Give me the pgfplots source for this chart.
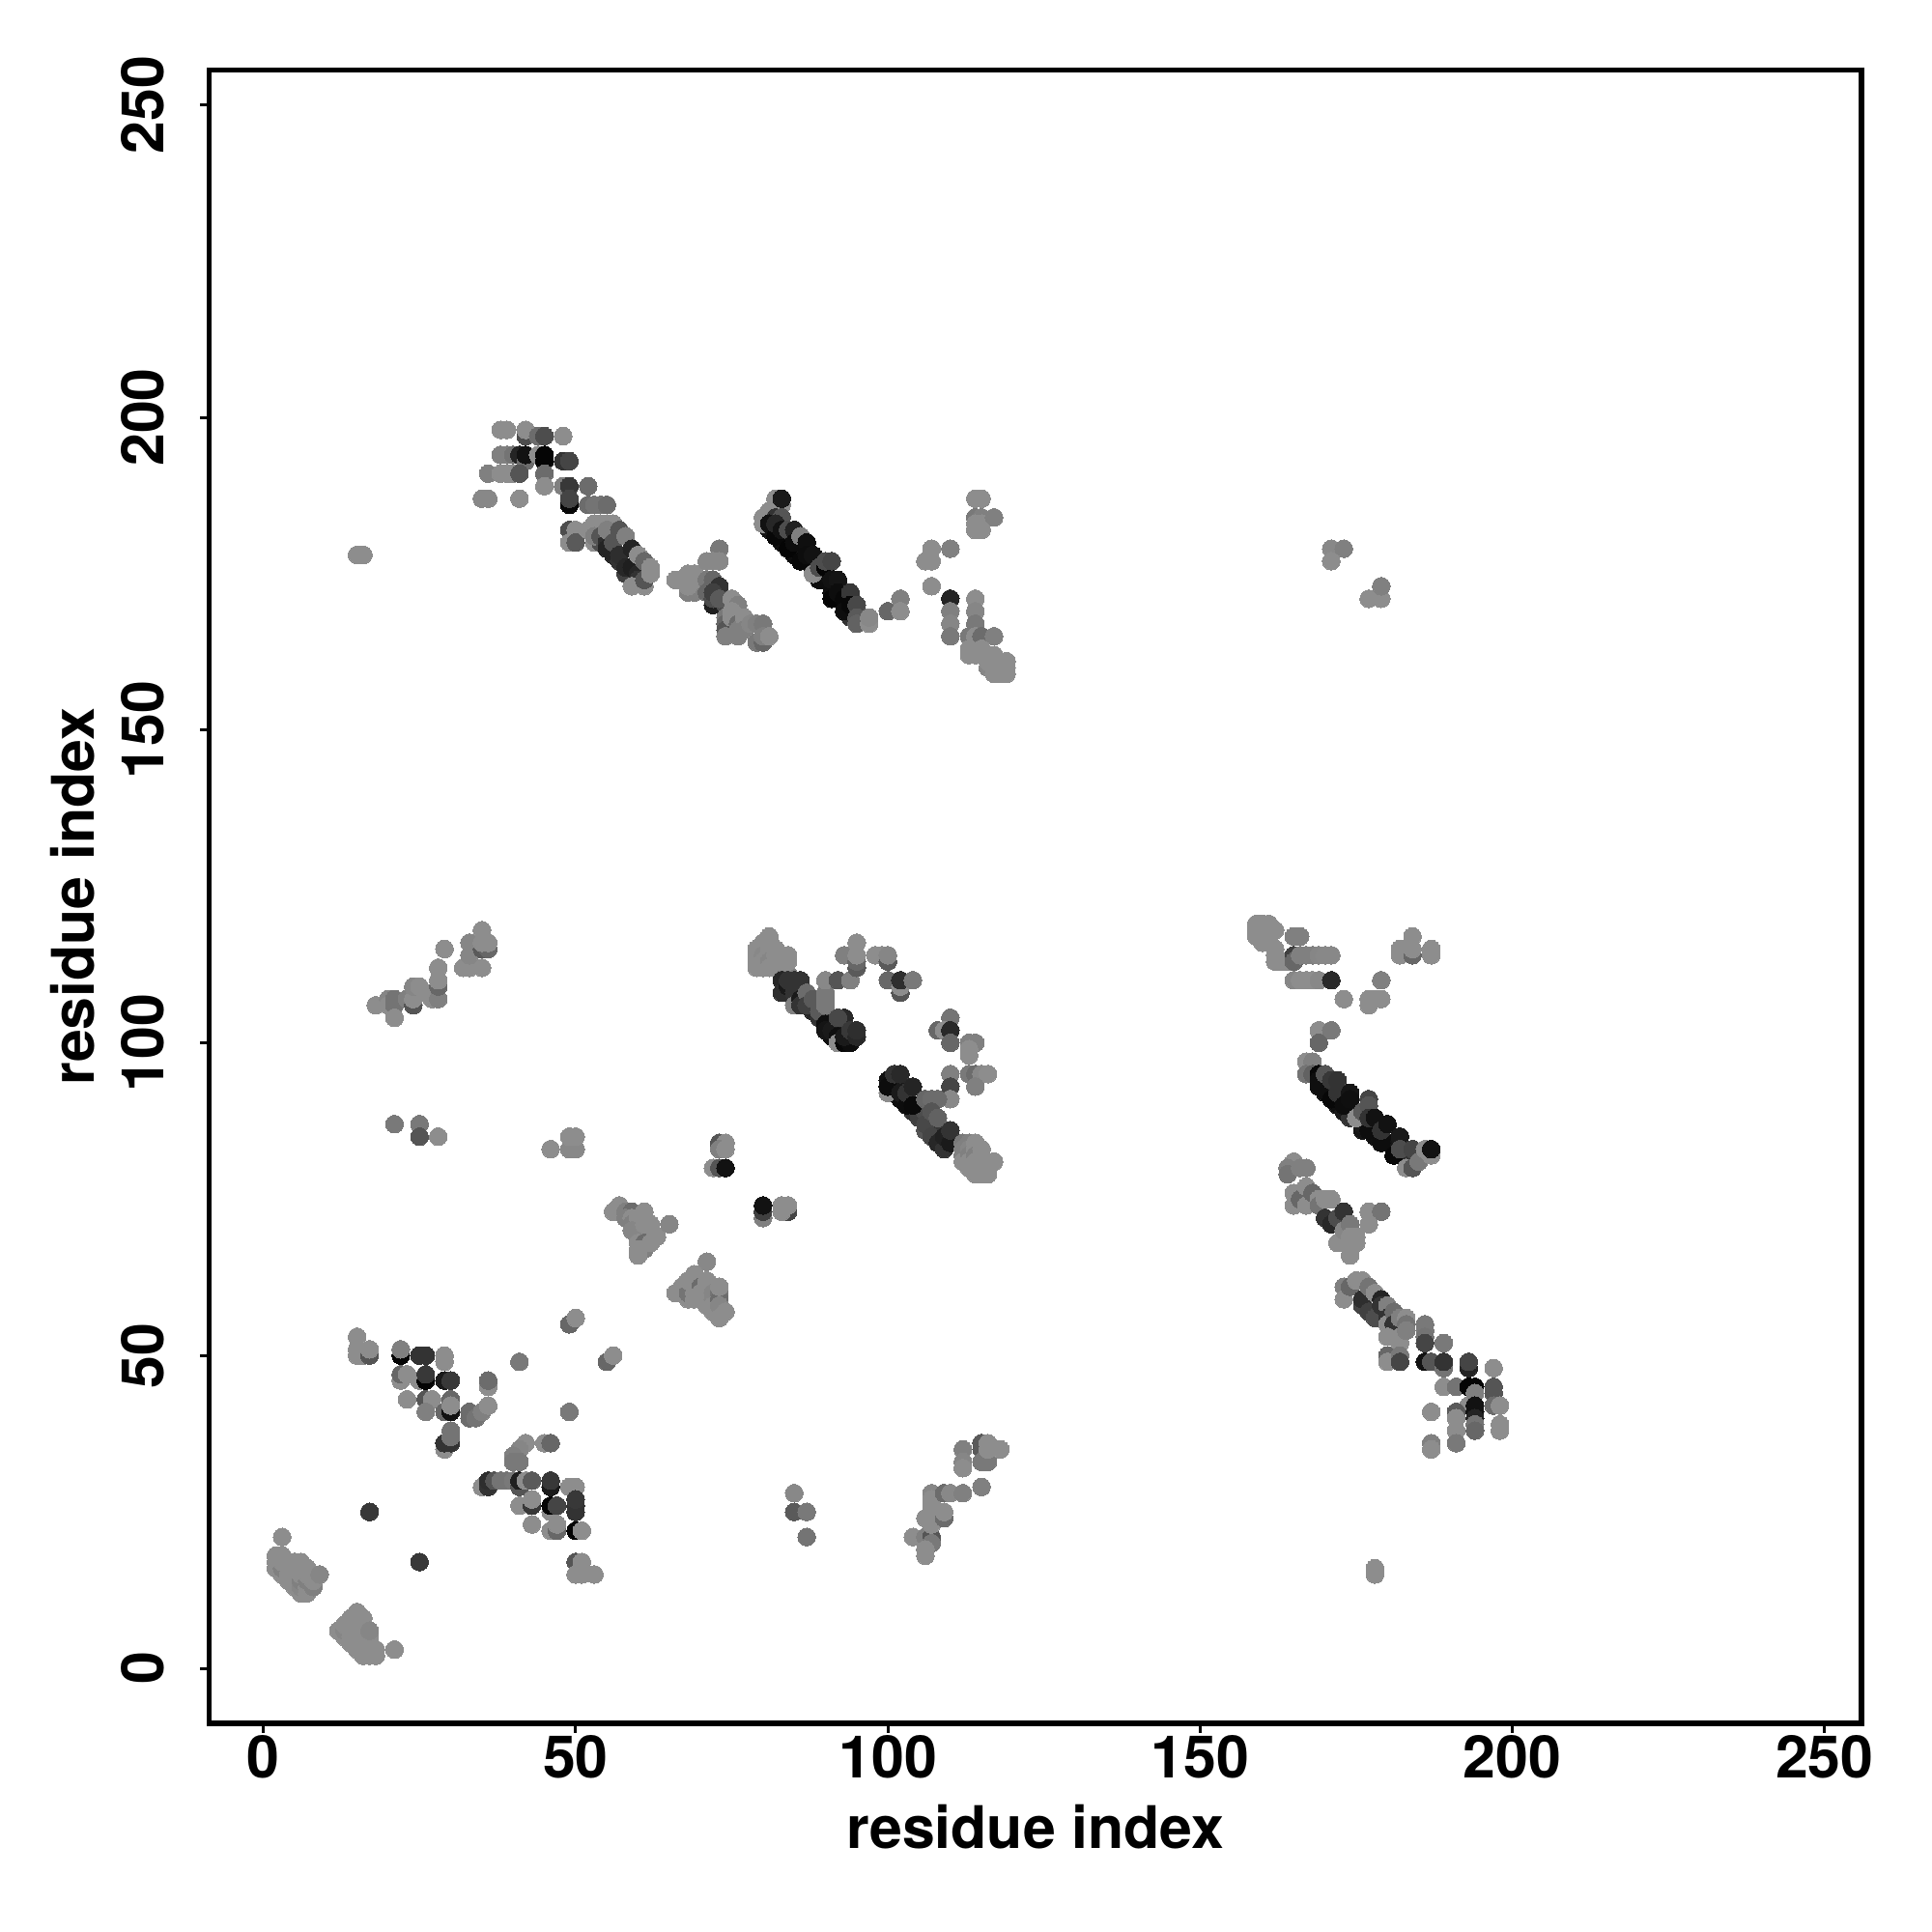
\documentclass[border=0pt]{standalone}
\usepackage{fontspec}
\setmainfont{TeX Gyre Heros}
\usepackage{pgfplots}
\pgfplotsset{compat=1.18}
\pgfplotsset{dots/.style={scatter,only marks,mark=*,mark size=0.92mm,
  scatter src=explicit,
  scatter/use mapped color={draw=mapped color,fill=mapped color},
  mark options={line width=0pt}}}
\begin{document}
\begin{tikzpicture}
\path[use as bounding box] (-21.67mm,-21.6mm) rectangle (178.33mm,178.4mm);
\begin{axis}[
  at={(0,0)},anchor=south west,
  scale only axis,width=171.03mm,height=171.13mm,
  xmin=-8.66,xmax=255.9,ymin=-8.8,ymax=255.5,
  axis line style={line width=0.52mm},
  tick style={line width=0.3mm,black},
  tick align=outside,major tick length=0.95mm,
  xtick={0,50,100,150,200,250},ytick={0,50,100,150,200,250},
  xtick pos=bottom,ytick pos=left,
  colormap={gr}{gray(0cm)=(0); gray(1cm)=(1)},
  point meta min=0,point meta max=1,
  /pgf/number format/assume math mode=true,
  tick label style={font=\fontsize{17.3}{20}\selectfont\bfseries,inner sep=0pt,outer sep=0pt},
  xticklabel style={anchor=north,yshift=-0.3mm},
  yticklabel style={rotate=90,anchor=south,yshift=3.7mm},
  xlabel={residue index},ylabel={residue index},
  label style={font=\fontsize{17.3}{20}\selectfont\bfseries},
  xlabel style={at={(axis description cs:0.5,-0.0625)},anchor=center},
  ylabel style={at={(axis description cs:-0.0827,0.5)},anchor=center,rotate=0},
]
% continuous dark underlay of the long bands
\addplot[dots] table[meta index=2] {
81 182 .08
82 182 .1
83 180 .06
84 180 .06
85 179 .05
85 178 .05
86 178 .06
86 179 .08
87 177 .05
88 176 .06
88 177 .1
89 175 .05
89 174 .05
90 174 .05
90 175 .06
91 173 .05
91 172 .05
92 173 .08
92 171 .05
93 170 .06
93 172 .1
94 168 .2
94 169 .08
85 107 .15
86 108 .2
87 107 .18
88 105 .15
88 106 .2
89 104 .2
90 104 .15
91 101 .06
91 103 .12
92 102 .1
93 102 .1
94 101 .1
101 93 .07
101 92 .08
102 91 .06
102 93 .1
103 91 .07
104 89 .2
105 88 .25
105 90 .15
106 89 .3
107 86 .25
107 87 .25
108 85 .2
108 86 .22
170 93 .06
170 92 .06
171 92 .08
172 90 .06
172 91 .08
173 89 .1
174 88 .2
175 89 .12
176 86 .08
176 87 .1
177 87 .08
178 85 .06
178 86 .08
179 85 .08
180 84 .06
181 83 .08
182 82 .1
183 81 .2
183 82 .12
184 81 .2
};
% lower-left clusters
\addplot[dots] table[meta index=2] {
3 21 .55
4 16 .45
5 15 .45
2 16 .55
2 17 .55
2 18 .55
3 15 .55
3 16 .5
3 17 .55
3 18 .55
4 14 .55
4 15 .55
4 17 .55
5 13 .55
5 14 .55
5 16 .55
5 17 .55
6 12 .55
6 13 .52
6 14 .5
6 15 .55
6 16 .55
6 17 .55
7 12 .55
7 13 .55
7 14 .5
7 15 .55
7 16 .55
8 13 .5
8 14 .55
8 15 .55
9 15 .52
14 6 .45
15 5 .45
17 4 .45
12 6 .55
13 5 .55
13 6 .52
13 7 .55
14 4 .55
14 5 .55
14 7 .55
14 8 .55
15 3 .55
15 4 .55
15 6 .55
15 7 .55
15 8 .55
15 9 .55
16 2 .55
16 3 .55
16 4 .55
16 5 .55
16 6 .55
16 7 .55
16 8 .55
17 2 .55
17 3 .55
17 5 .55
17 6 .52
18 2 .55
18 3 .55
21 3 .55
17 25 .22
25 17 .22
};
% cluster around (30,40)
\addplot[dots] table[meta index=2] {
15 53 .55
15 51 .55
15 50 .55
16 50 .55
17 50 .33
17 51 .55
22 50 .02
22 51 .5
25 50 .2
26 50 .2
29 49 .55
29 50 .55
22 46 .55
22 47 .4
23 47 .55
25 46 .55
26 46 .02
26 47 .22
29 46 .1
30 46 .22
36 45 .55
36 46 .42
41 49 .47
23 43 .55
26 43 .33
27 43 .55
30 43 .4
26 41 .5
29 41 .4
30 41 .07
30 42 .55
33 41 .42
33 40 .42
34 40 .45
35 41 .5
36 42 .55
29 35 .55
29 36 .2
30 36 .2
30 37 .45
30 38 .45
49 41 .47
49 55 .4
50 56 .55
55 49 .4
56 50 .55
42 36 .55
41 35 .52
40 34 .5
40 33 .47
41 33 .47
45 36 .55
46 36 .4
35 29 .55
36 29 .2
36 30 .18
37 30 .33
38 30 .45
39 30 .45
40 30 .47
41 29 .33
41 30 .12
42 30 .55
43 30 .35
46 29 .1
46 30 .22
49 29 .55
50 29 .55
41 26 .55
43 26 .22
43 27 .55
46 25 .55
46 26 .02
47 26 .27
50 25 .2
50 26 .2
50 27 .22
43 23 .55
46 22 .55
47 22 .4
47 23 .55
50 22 .02
51 22 .55
50 17 .33
51 17 .55
51 16 .55
50 15 .55
51 15 .55
53 15 .55
};
% upper-left and middle-left
\addplot[dots] table[meta index=2] {
15 178 .55
16 178 .55
18 106 .55
20 107 .52
20 106 .55
21 106 .45
21 107 .45
21 104 .55
23 107 .5
24 106 .33
24 107 .55
24 109 .52
25 109 .55
26 108 .55
27 107 .55
28 107 .5
28 109 .4
28 110 .55
28 112 .55
29 115 .55
32 112 .55
33 112 .55
35 112 .55
33 116 .52
33 114 .52
35 115 .35
36 115 .4
35 118 .55
35 116 .55
36 116 .55
21 87 .47
25 87 .47
25 85 .33
28 85 .55
46 83 .55
49 83 .53
50 83 .53
49 85 .55
50 85 .55
73 84 .33
74 84 .55
73 83 .5
74 83 .55
72 80 .55
73 80 .33
74 80 .07
80 72 .5
80 73 .25
80 74 .07
84 73 .27
83 73 .55
83 74 .55
84 74 .55
};
% diagonal clusters (56-74)
\addplot[dots] table[meta index=2] {
57 74 .55
56 73 .55
58 73 .5
59 73 .42
58 72 .5
59 72 .55
59 71 .5
60 72 .55
61 73 .55
61 72 .55
61 70 .35
60 70 .55
60 69 .52
59 70 .52
60 68 .55
61 71 .55
62 71 .55
62 70 .55
62 69 .55
61 68 .42
61 67 .5
60 67 .55
60 66 .55
62 68 .55
63 69 .55
65 71 .52
71 65 .53
66 60 .55
67 61 .55
68 59 .55
68 60 .45
68 62 .55
69 63 .55
69 61 .55
69 59 .55
69 60 .55
70 62 .55
70 61 .42
70 60 .55
70 59 .55
71 62 .55
71 61 .55
71 60 .55
71 59 .55
71 58 .55
72 60 .52
72 59 .52
72 58 .55
72 57 .55
73 60 .45
73 59 .42
73 58 .52
73 61 .55
73 56 .55
74 57 .55
};
% 180-190 top left arm
\addplot[dots] table[meta index=2] {
38 198 .55
39 198 .55
42 197 .3
42 198 .55
44 197 .42
45 197 .3
48 197 .55
38 194 .5
39 194 .5
40 194 .45
41 194 .14
42 193 .42
42 194 .07
44 194 .55
45 193 .02
45 194 .02
48 193 .2
49 193 .27
36 191 .5
38 191 .55
39 191 .55
40 191 .55
41 191 .33
45 191 .42
45 189 .55
35 187 .53
36 187 .53
41 187 .55
48 189 .5
49 189 .22
52 189 .42
49 186 .03
49 187 .27
52 186 .42
53 186 .45
54 186 .45
55 186 .42
49 182 .3
50 182 .55
49 180 .55
50 180 .35
52 182 .55
53 183 .55
54 183 .55
55 183 .55
56 183 .55
53 180 .55
54 180 .3
53 181 .5
54 181 .33
55 180 .18
55 179 .14
55 182 .5
56 178 .14
56 180 .33
57 177 .2
57 178 .18
57 182 .33
58 175 .25
58 176 .15
58 181 .5
59 176 .12
59 179 .14
60 175 .15
60 178 .55
60 174 .2
59 173 .55
61 173 .55
61 174 .33
61 177 .4
62 176 .55
62 175 .55
};
% band 66-81
\addplot[dots] table[meta index=2] {
66 174 .55
68 175 .55
69 175 .55
68 172 .5
69 172 .5
68 173 .55
69 174 .55
71 177 .53
73 179 .47
73 177 .53
72 177 .53
71 174 .47
71 172 .4
72 174 .4
73 173 .2
72 170 .12
72 171 .3
72 172 .25
74 170 .3
73 171 .35
75 171 .55
76 170 .5
74 168 .47
74 167 .4
74 166 .33
74 165 .5
75 169 .55
75 168 .55
76 167 .42
76 166 .5
76 165 .5
77 168 .55
77 166 .5
78 167 .52
79 167 .5
80 167 .47
79 164 .47
80 164 .4
80 165 .5
81 165 .55
};
% band 80-97, top
\addplot[dots] table[meta index=2] {
80 184 .55
80 183 .55
81 185 .55
82 187 .55
83 186 .55
83 187 .1
82 184 .2
83 184 .33
81 183 .07
82 181 .03
82 183 .15
83 182 .07
84 182 .3
85 182 .13
84 179 .02
85 180 .05
86 181 .5
86 177 .03
87 180 .06
87 178 .05
88 178 .07
88 175 .55
89 176 .3
90 176 .02
90 177 .3
91 177 .27
91 174 .07
92 174 .08
91 171 .02
92 172 .05
93 171 .03
93 169 .05
94 172 .22
94 170 .03
95 170 .28
95 168 .35
95 167 .38
97 167 .55
97 168 .53
100 169 .4
102 171 .5
102 169 .55
107 179 .55
110 179 .5
106 177 .55
107 177 .55
107 173 .55
110 171 .14
110 169 .5
110 167 .52
110 165 .47
114 171 .55
114 169 .52
114 167 .47
113 165 .47
114 164 .22
114 165 .55
115 165 .42
117 165 .5
113 162 .55
113 163 .55
114 162 .55
115 162 .55
115 163 .55
116 160 .52
116 161 .55
117 159 .55
117 160 .55
117 161 .55
117 162 .55
118 159 .55
118 160 .55
118 161 .55
119 159 .55
119 160 .55
119 161 .55
114 187 .55
115 187 .55
114 184 .47
115 184 .5
114 183 .55
115 183 .55
117 184 .5
114 182 .55
115 182 .55
};
% band 79-116, middle
\addplot[dots] table[meta index=2] {
83 112 .45
84 111 .5
79 115 .55
79 114 .55
79 113 .55
79 112 .55
80 116 .55
81 116 .55
81 117 .55
80 114 .53
80 113 .55
80 112 .55
81 115 .55
81 114 .55
81 113 .52
81 112 .55
82 115 .55
82 114 .55
82 113 .55
83 114 .55
83 113 .55
84 113 .55
84 114 .55
83 110 .15
83 108 .18
84 109 .1
84 110 .2
85 110 .2
86 110 .2
85 108 .2
85 106 .5
86 107 .1
86 106 .2
87 108 .42
87 106 .25
88 107 .35
89 105 .35
90 108 .47
90 107 .47
90 106 .47
90 110 .53
92 110 .33
94 110 .5
93 114 .5
95 112 .35
95 113 .4
95 114 .55
95 116 .55
98 114 .55
99 114 .55
100 113 .35
100 114 .52
100 110 .4
102 108 .33
102 109 .55
102 110 .18
104 110 .47
90 103 .06
90 102 .08
91 102 .1
92 101 .06
92 100 .55
93 100 .03
94 100 .05
93 104 .16
92 104 .28
93 101 .1
94 102 .22
95 101 .15
95 102 .18
110 104 .45
108 102 .4
109 102 .55
110 102 .16
110 100 .4
113 100 .5
114 100 .5
113 99 .55
113 98 .55
110 95 .5
110 93 .27
110 91 .53
113 95 .47
114 95 .42
115 95 .53
116 95 .55
114 93 .5
};
% band 100-117
\addplot[dots] table[meta index=2] {
100 92 .55
100 94 .07
100 93 .05
101 95 .2
102 95 .16
102 92 .1
103 90 .05
103 92 .2
104 90 .04
104 93 .14
106 91 .4
107 91 .42
108 91 .42
106 86 .33
106 87 .28
107 85 .27
107 89 .33
108 84 .15
108 88 .38
109 83 .2
109 85 .13
110 84 .1
110 86 .2
112 84 .47
112 83 .5
112 82 .5
112 81 .55
113 84 .5
113 83 .52
113 82 .5
113 81 .55
113 80 .55
114 84 .55
114 83 .55
114 82 .5
114 81 .55
114 80 .55
114 79 .55
115 83 .55
115 82 .55
115 81 .55
115 80 .55
115 79 .55
116 81 .55
116 80 .55
116 79 .55
117 81 .55
};
% lower middle
\addplot[dots] table[meta index=2] {
85 28 .53
85 25 .35
87 25 .47
87 21 .45
104 21 .55
106 21 .5
107 21 .33
107 20 .47
106 19 .55
106 18 .55
107 24 .3
106 24 .55
107 23 .55
107 28 .52
107 27 .55
107 26 .55
108 25 .55
109 24 .42
109 25 .55
109 28 .42
110 28 .53
112 28 .5
115 29 .5
112 35 .5
112 33 .52
112 32 .55
115 36 .35
115 35 .35
115 33 .47
116 33 .47
116 36 .55
116 35 .55
118 35 .55
};
% right upper
\addplot[dots] table[meta index=2] {
159 119 .55
160 119 .55
161 119 .55
159 118 .55
159 117 .55
160 116 .55
161 117 .55
162 118 .55
162 115 .55
162 114 .55
162 113 .55
163 113 .55
164 113 .55
165 114 .25
165 113 .4
165 117 .5
166 117 .5
166 114 .5
167 114 .5
168 114 .5
169 114 .52
170 114 .53
171 114 .53
165 110 .52
166 110 .55
167 110 .55
168 110 .55
169 110 .53
171 110 .16
173 107 .55
177 107 .55
177 106 .55
178 107 .55
179 107 .55
179 110 .5
182 115 .55
182 114 .55
184 117 .55
184 114 .4
184 115 .55
187 115 .55
187 114 .55
171 179 .53
173 179 .5
171 177 .55
177 171 .55
179 171 .55
179 173 .5
169 102 .55
171 102 .47
169 100 .4
167 97 .55
168 97 .5
167 95 .45
168 95 .38
169 95 .03
169 93 .06
169 94 .06
170 95 .33
171 94 .22
172 94 .2
171 91 .03
172 92 .2
173 90 .05
174 92 .08
174 91 .06
175 88 .55
176 89 .35
177 91 .27
177 90 .33
177 86 .05
177 88 .2
178 88 .07
179 84 .05
179 86 .2
180 87 .07
181 82 .03
182 85 .1
182 83 .3
183 80 .55
184 83 .27
184 80 .33
185 81 .47
186 83 .55
187 82 .55
187 83 .07
};
% right lower
\addplot[dots] table[meta index=2] {
165 81 .55
164 80 .5
164 79 .45
166 80 .5
167 80 .5
165 76 .55
165 74 .55
166 75 .4
167 74 .55
167 77 .55
168 76 .4
169 75 .55
169 74 .45
170 72 .2
170 75 .55
171 75 .55
171 71 .15
172 72 .3
173 73 .2
172 68 .55
173 70 .52
174 71 .47
174 69 .55
174 68 .55
174 66 .55
175 69 .55
175 68 .55
177 73 .55
179 73 .45
177 71 .55
173 61 .5
173 59 .55
174 61 .4
175 62 .55
176 62 .55
176 58 .27
176 59 .18
177 61 .45
177 57 .25
178 60 .55
178 56 .3
179 59 .14
179 58 .2
180 58 .5
180 56 .2
180 55 .55
181 57 .42
181 54 .18
181 55 .2
182 56 .5
180 53 .55
182 53 .55
182 52 .55
183 56 .55
183 55 .45
183 54 .5
180 50 .4
180 49 .55
182 50 .47
182 49 .27
186 55 .47
186 54 .47
186 53 .45
186 52 .27
189 52 .47
186 49 .07
187 49 .33
189 48 .45
189 49 .2
193 48 .14
193 49 .27
197 48 .55
189 45 .55
191 45 .45
193 45 .02
194 45 .02
197 45 .33
197 44 .33
193 42 .55
194 44 .5
197 42 .42
198 42 .55
187 41 .55
191 41 .35
191 40 .55
191 38 .55
191 36 .47
194 41 .07
194 42 .07
194 40 .14
194 39 .45
194 38 .4
187 36 .5
187 35 .55
198 39 .55
198 38 .55
178 16 .55
178 15 .55
};
\end{axis}
\end{tikzpicture}
\end{document}
